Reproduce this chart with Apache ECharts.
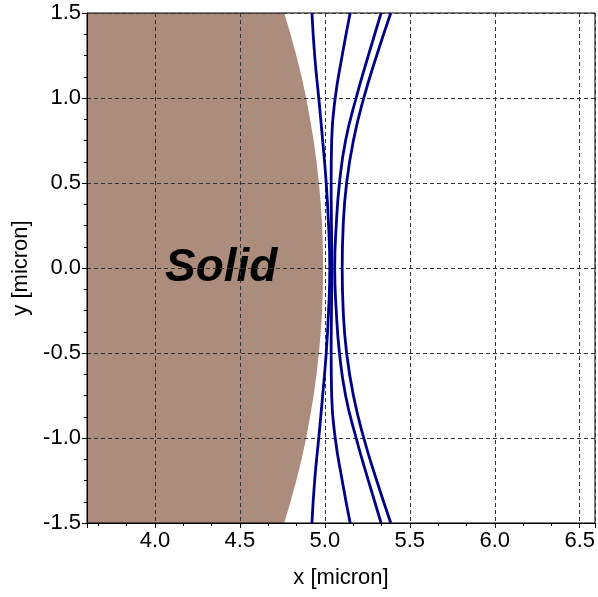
<!DOCTYPE html>
<html>
<head>
<meta charset="utf-8">
<script src="https://cdn.jsdelivr.net/npm/echarts@6/dist/echarts.min.js"></script>
<style>
html, body { margin: 0; padding: 0; background: #fff; }
#main { width: 598px; height: 597px; }
</style>
</head>
<body>
<div id="main"></div>
<script>
var yVals = [-1.5, -1.25, -1.0, -0.75, -0.5, -0.25, 0, 0.25, 0.5, 0.75, 1.0, 1.25, 1.5];

// x of each curve at yVals
var curveA = [4.924, 4.940, 4.964, 4.987, 5.008, 5.022, 5.029, 5.022, 5.008, 4.987, 4.964, 4.940, 4.924];
var curveB = [5.149, 5.102, 5.061, 5.040, 5.037, 5.039, 5.041, 5.039, 5.037, 5.040, 5.061, 5.102, 5.149];
var curveC = [5.331, 5.256, 5.184, 5.122, 5.086, 5.067, 5.058, 5.067, 5.086, 5.122, 5.184, 5.256, 5.331];
var curveD = [5.388, 5.305, 5.229, 5.168, 5.128, 5.108, 5.102, 5.108, 5.128, 5.168, 5.229, 5.305, 5.388];

// right edge of the solid, read at finer y steps
var solidY = [-1.5, -1.375, -1.25, -1.125, -1.0, -0.875, -0.75, -0.625, -0.5, -0.375, -0.25, -0.125, 0,
              0.125, 0.25, 0.375, 0.5, 0.625, 0.75, 0.875, 1.0, 1.125, 1.25, 1.375, 1.5];
var solidEdge = [4.761, 4.798, 4.832, 4.863, 4.890, 4.913, 4.934, 4.951, 4.965, 4.976, 4.984, 4.988, 4.990,
                 4.988, 4.984, 4.976, 4.965, 4.951, 4.934, 4.913, 4.890, 4.863, 4.832, 4.798, 4.761];
var solidLabel = 'Solid';
var solidLabelAt = [4.39, 0.0];

var xMin = 3.6, xMax = 6.59;
var yMin = -1.5, yMax = 1.5;

function pairs(xs) {
    var d = [];
    for (var i = 0; i < yVals.length; i++) {
        d.push([xs[i], yVals[i]]);
    }
    return d;
}

var mychart = echarts.init(document.getElementById('main'));

function lineSeries(xs) {
    return {
        type: 'line',
        data: pairs(xs),
        smooth: 0.5,
        showSymbol: false,
        z: 3,
        lineStyle: { color: '#000088', width: 2.8 },
        animation: false
    };
}

var axisFont = { fontSize: 22, color: '#000', fontFamily: 'Liberation Sans' };

var option = {
    animation: false,
    grid: {
        left: 87, right: 2, top: 13, bottom: 74,
        show: true,
        borderColor: '#000',
        borderWidth: 1,
        backgroundColor: 'transparent'
    },
    xAxis: {
        type: 'value',
        min: xMin,
        max: xMax,
        name: 'x [micron]',
        nameLocation: 'middle',
        nameGap: 44,
        nameTextStyle: axisFont,
        axisLine: { show: true, onZero: false, lineStyle: { color: '#000', width: 1 } },
        axisTick: { show: true, length: 5, lineStyle: { color: '#000' } },
        minorTick: { show: true, splitNumber: 3, length: 3, lineStyle: { color: '#000' } },
        axisLabel: {
            fontSize: 22, color: '#000', fontFamily: 'Liberation Sans', margin: 7,
            showMinLabel: false, showMaxLabel: false,
            formatter: function (v) { return v.toFixed(1); }
        },
        splitLine: { show: true, lineStyle: { color: '#333', type: [4, 3], width: 1 } }
    },
    yAxis: {
        type: 'value',
        min: yMin,
        max: yMax,
        interval: 0.5,
        name: 'y [micron]',
        nameLocation: 'middle',
        nameGap: 52,
        nameTextStyle: axisFont,
        axisLine: { show: true, onZero: false, lineStyle: { color: '#000', width: 1 } },
        axisTick: { show: true, length: 5, lineStyle: { color: '#000' } },
        minorTick: { show: true, splitNumber: 4, length: 3, lineStyle: { color: '#000' } },
        axisLabel: {
            fontSize: 22, color: '#000', fontFamily: 'Liberation Sans', margin: 6,
            formatter: function (v) { return v.toFixed(1); }
        },
        splitLine: { show: true, lineStyle: { color: '#333', type: [4, 3], width: 1 } }
    },
    series: [
        {
            type: 'custom',
            z: -1,
            data: [[0]],
            renderItem: function (params, api) {
                var pts = [api.coord([xMin, yMin])];
                for (var i = 0; i < solidY.length; i++) {
                    pts.push(api.coord([solidEdge[i], solidY[i]]));
                }
                pts.push(api.coord([xMin, yMax]));
                var c = api.coord(solidLabelAt);
                return {
                    type: 'group',
                    children: [
                        {
                            type: 'polygon',
                            shape: { points: pts },
                            style: { fill: '#ab8c7d' }
                        },
                        {
                            type: 'text',
                            x: c[0], y: c[1],
                            style: {
                                text: solidLabel,
                                fill: '#000',
                                font: 'italic bold 46px "Liberation Sans"',
                                textAlign: 'center',
                                textVerticalAlign: 'middle'
                            }
                        }
                    ]
                };
            }
        },
        lineSeries(curveA),
        lineSeries(curveB),
        lineSeries(curveC),
        lineSeries(curveD)
    ]
};
mychart.setOption(option);
</script>
</body>
</html>
